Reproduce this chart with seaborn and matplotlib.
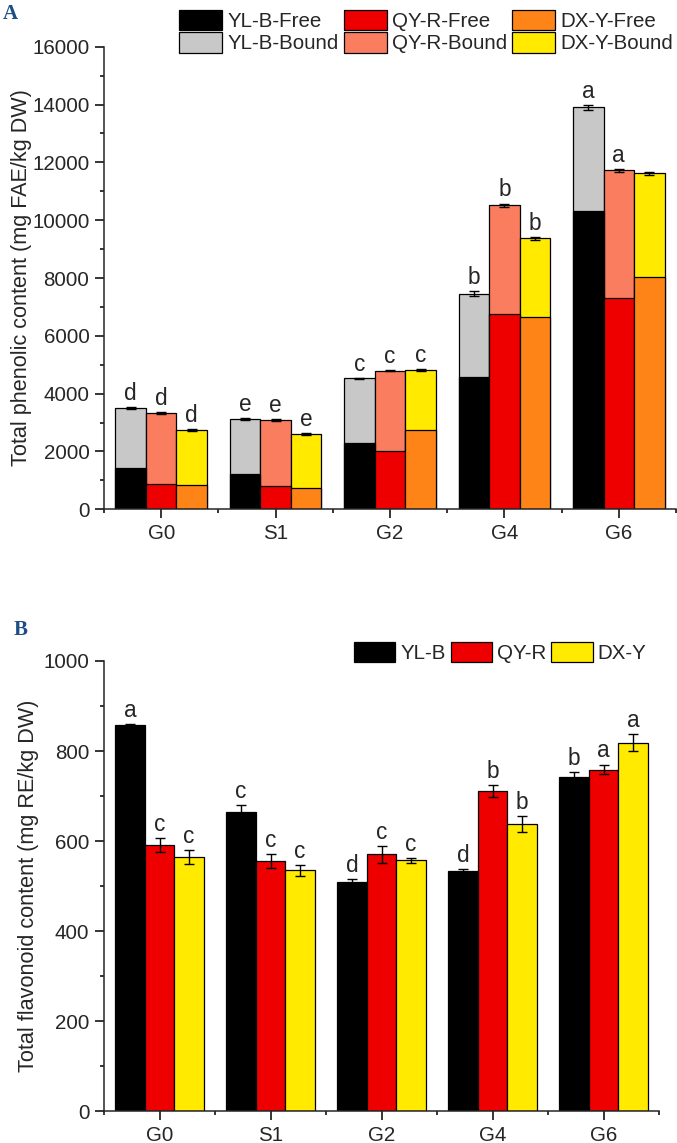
import matplotlib
matplotlib.use("Agg")
import matplotlib.pyplot as plt
from matplotlib.patches import Patch
from matplotlib.ticker import MultipleLocator, FixedLocator
import pandas as pd
import seaborn as sns

stages = ['G0', 'S1', 'G2', 'G4', 'G6']
cultivars = ['YL-B', 'QY-R', 'DX-Y']

# panel A: total phenolics (free part + total = free + bound)
free_ylb = [1420, 1210, 2300, 4560, 10330]
free_qyr = [860, 810, 2020, 6760, 7320]
free_dxy = [840, 740, 2750, 6640, 8050]
total_ylb = [3495, 3125, 4533, 7460, 13900]
total_qyr = [3332, 3090, 4800, 10515, 11720]
total_dxy = [2744, 2595, 4820, 9367, 11616]
err_ylb = [30, 30, 20, 80, 90]
err_qyr = [40, 25, 20, 60, 50]
err_dxy = [40, 40, 20, 40, 50]
let_ylb = ['d', 'e', 'c', 'b', 'a']
let_qyr = ['d', 'e', 'c', 'b', 'a']
let_dxy = ['d', 'e', 'c', 'b', '']

# panel B: total flavonoids
flav_ylb = [858, 665, 510, 534, 743]
flav_qyr = [591, 556, 571, 711, 759]
flav_dxy = [565, 535, 557, 638, 819]
ferr_ylb = [3, 16, 5, 5, 10]
ferr_qyr = [15, 15, 19, 13, 11]
ferr_dxy = [15, 12, 5, 17, 18]
flet_ylb = ['a', 'c', 'd', 'd', 'b']
flet_qyr = ['c', 'c', 'c', 'b', 'a']
flet_dxy = ['c', 'c', 'c', 'b', 'a']

free_colors = ['#000000', '#EE0000', '#FF8418']
bound_colors = ['#C8C8C8', '#FA7D5F', '#FFEA00']
flav_colors = ['#000000', '#EE0000', '#FFEA00']

sns.set_theme(style='ticks')
plt.rcParams['font.family'] = ['Liberation Sans', 'DejaVu Sans']
plt.rcParams['axes.linewidth'] = 1.1

FS = 14.8


def long_df(cols, name):
    rows = []
    for cv, vals in zip(cultivars, cols):
        for st, v in zip(stages, vals):
            rows.append({'stage': st, 'cultivar': cv, name: v})
    return pd.DataFrame(rows)


def bar_layer(ax, df, col, colors):
    n0 = len(ax.containers)
    sns.barplot(data=df, x='stage', y=col, hue='cultivar', order=stages,
                hue_order=cultivars, palette=dict(zip(cultivars, colors)),
                edgecolor='black', linewidth=0.9, saturation=1, width=0.8,
                errorbar=None, legend=False, ax=ax)
    return ax.containers[n0:]


def add_err_letters(ax, containers, vals, errs, lets, off=1.5):
    for cont, v, e, l in zip(containers, vals, errs, lets):
        xs = [p.get_x() + p.get_width() / 2 for p in cont.patches]
        ax.errorbar(xs, v, yerr=e, fmt='none', ecolor='black', elinewidth=1,
                    capsize=3.5, capthick=1)
        for x, vi, ei, li in zip(xs, v, e, l):
            if li:
                ax.annotate(li, (x, vi + ei), xytext=(0, off), textcoords='offset points',
                            ha='center', va='bottom', fontsize=FS + 1.5)


def style_axis(ax, ymax, ymaj, ymin_step):
    sns.despine(ax=ax)
    ax.set_xlim(-0.5, 4.5)
    ax.set_ylim(0, ymax)
    ax.yaxis.set_major_locator(MultipleLocator(ymaj))
    ax.yaxis.set_minor_locator(MultipleLocator(ymin_step))
    ax.xaxis.set_minor_locator(FixedLocator([-0.5, 0.5, 1.5, 2.5, 3.5, 4.5]))
    ax.tick_params(which='major', length=6.5, width=1.1, labelsize=FS, pad=4, color='black')
    ax.tick_params(which='minor', length=3.2, width=1.1, color='black')
    ax.set_xlabel('')


W, H = 677, 1143
fig = plt.figure(figsize=(W / 100, H / 100), dpi=100)

# ---- panel A
axA = fig.add_axes([104 / W, 1 - 509.3 / H, 572 / W, 462.6 / H])
tot = long_df([total_ylb, total_qyr, total_dxy], 'total')
fre = long_df([free_ylb, free_qyr, free_dxy], 'free')
contA = bar_layer(axA, tot, 'total', bound_colors)
bar_layer(axA, fre, 'free', free_colors)
add_err_letters(axA, contA, [total_ylb, total_qyr, total_dxy],
                [err_ylb, err_qyr, err_dxy], [let_ylb, let_qyr, let_dxy])
style_axis(axA, 16000, 2000, 1000)
axA.set_ylabel('Total phenolic content (mg FAE/kg DW)', fontsize=FS + 0.8)
axA.yaxis.set_label_coords(-0.126, 0.5)

handlesA = []
for lab, fc, bc in zip(cultivars, free_colors, bound_colors):
    handlesA.append(Patch(facecolor=fc, edgecolor='black', linewidth=0.9, label=lab + '-Free'))
    handlesA.append(Patch(facecolor=bc, edgecolor='black', linewidth=0.9, label=lab + '-Bound'))
fig.legend(handles=handlesA, ncol=3, loc='upper left', bbox_to_anchor=(179 / W, 1 - 10 / H),
           frameon=False, fontsize=FS, handlelength=2.1, handleheight=1.15,
           handletextpad=0.25, columnspacing=0.25, labelspacing=0.05, borderpad=0,
           borderaxespad=0)

# ---- panel B
axB = fig.add_axes([104 / W, 1 - 1111.3 / H, 555 / W, 450.3 / H])
flav = long_df([flav_ylb, flav_qyr, flav_dxy], 'flav')
contB = bar_layer(axB, flav, 'flav', flav_colors)
add_err_letters(axB, contB, [flav_ylb, flav_qyr, flav_dxy],
                [ferr_ylb, ferr_qyr, ferr_dxy], [flet_ylb, flet_qyr, flet_dxy])
style_axis(axB, 1000, 200, 100)
axB.set_ylabel('Total flavonoid content (mg RE/kg DW)', fontsize=FS + 0.8)
axB.yaxis.set_label_coords(-0.118, 0.5)

handlesB = [Patch(facecolor=c, edgecolor='black', linewidth=0.9, label=l)
            for l, c in zip(cultivars, flav_colors)]
fig.legend(handles=handlesB, ncol=3, loc='upper left', bbox_to_anchor=(354 / W, 1 - 642 / H),
           frameon=False, fontsize=FS, handlelength=2.0, handleheight=1.1,
           handletextpad=0.25, columnspacing=0.25, borderpad=0, borderaxespad=0)

# panel letters
for lab, x, y in [('A', 3, 4), ('B', 14, 620)]:
    fig.text(x / W, 1 - y / H, lab, ha='left', va='top', fontsize=15, fontweight='bold',
             color='#1F4E85', family=['Liberation Serif', 'DejaVu Serif'])

fig.savefig('out.png', dpi=100)
